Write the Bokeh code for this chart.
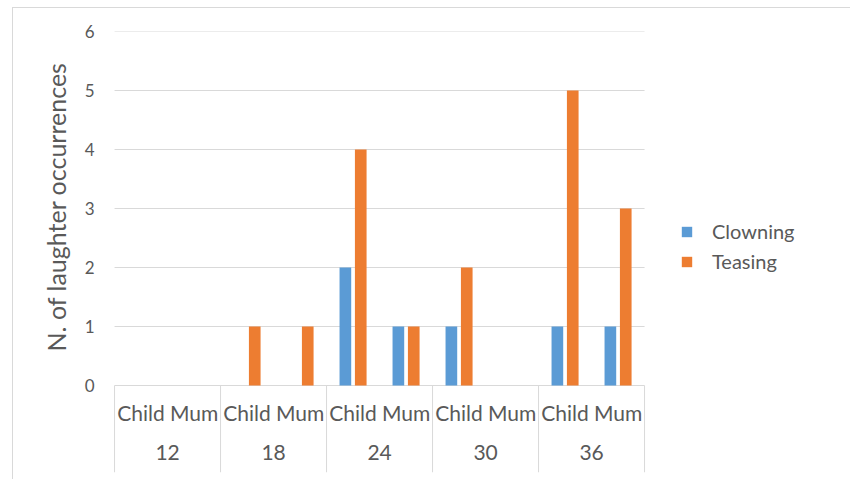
from bokeh.plotting import figure
from bokeh.models import ColumnDataSource, Range1d, FixedTicker, Legend, LegendItem, Title
from bokeh.core.properties import value
from bokeh.transform import dodge
from bokeh.embed import file_html
from bokeh.resources import INLINE

# ---- data ----
ages = ["12", "18", "24", "30", "36"]
roles = ["Child", "Mum"]
clowning = [0, 0, 0, 0, 2, 1, 1, 0, 1, 1]
teasing = [0, 0, 1, 1, 4, 1, 2, 0, 5, 3]
y_ticks = [0, 1, 2, 3, 4, 5, 6]
y_title = "N. of laughter occurrences"
series_names = ["Clowning", "Teasing"]
colors = ["#5B9BD5", "#ED7D31"]

FONT = "Lato"
TXT = "#595959"
GRID = "#d9d9d9"

n = len(ages) * len(roles)
slot = [i + 0.5 for i in range(n)]
role_labels = [r for _ in ages for r in roles]

W, H = 838, 472
left, top, bottom = 100, 23, 8
ppx = 53.0            # pixels per category slot
ppy = 59.0            # pixels per unit
x0 = -0.02
x1 = x0 + (W - left) / ppx
ymax = 6.0
ymin = ymax - (H - top - bottom) / ppy

p = figure(width=W, height=H, output_backend="svg", toolbar_location=None,
           x_range=Range1d(x0, x1), y_range=Range1d(ymin, ymax),
           x_axis_location=None, min_border_left=left, min_border_right=0,
           min_border_top=top, min_border_bottom=bottom, outline_line_color=None)
p.margin = (7, 0, 0, 12)
p.styles = {"border-left": "1px solid #d9d9d9", "border-top": "1px solid #d9d9d9"}

# y axis
p.yaxis.ticker = FixedTicker(ticks=y_ticks)
p.yaxis.axis_line_color = None
p.yaxis.major_tick_line_color = None
p.yaxis.minor_tick_line_color = None
p.yaxis.major_label_standoff = 13
p.yaxis.major_label_text_font = FONT
p.yaxis.major_label_text_font_size = "17px"
p.yaxis.major_label_text_color = TXT
p.xgrid.visible = False
p.ygrid.visible = False

# horizontal gridlines limited to the category span
p.segment(x0=[0] * len(y_ticks), y0=y_ticks, x1=[n] * len(y_ticks), y1=y_ticks,
          line_color=GRID, line_width=1)

# y title
p.add_layout(Title(text=y_title, align="left", offset=121, standoff=22,
                   text_font=FONT, text_font_size="25px", text_font_style="normal",
                   text_color=TXT), "left")

# bars
src = ColumnDataSource(dict(x=slot, clowning=clowning, teasing=teasing))
off = 0.145
w = 0.22
r1 = p.vbar(x=dodge("x", -off), top="clowning", bottom=0, width=w, source=src,
            fill_color=colors[0], line_color=None)
r2 = p.vbar(x=dodge("x", off), top="teasing", bottom=0, width=w, source=src,
            fill_color=colors[1], line_color=None)

# category table below the axis
bounds = list(range(0, n + 1, len(roles)))
p.segment(x0=bounds, y0=[0] * len(bounds), x1=bounds, y1=[ymin] * len(bounds),
          line_color=GRID, line_width=1)
p.text(x=slot, y=[-0.46] * n, text=role_labels, text_font=value(FONT),
       text_font_size="21px", text_color=TXT, text_align="center", text_baseline="middle")
age_x = [i * len(roles) + len(roles) / 2 for i in range(len(ages))]
p.text(x=age_x, y=[-1.135] * len(ages), text=ages, text_font=value(FONT),
       text_font_size="21px", text_color=TXT, text_align="center", text_baseline="middle")

legend = Legend(items=[LegendItem(label=series_names[0], renderers=[r1]),
                       LegendItem(label=series_names[1], renderers=[r2])],
                location=(567, 199), orientation="vertical",
                margin=0, padding=10, spacing=6,
                glyph_width=13, glyph_height=13, label_standoff=19,
                label_text_font=FONT, label_text_font_size="20px", label_text_color=TXT,
                border_line_color=None, background_fill_alpha=0)
p.add_layout(legend)

open("out.html", "w").write(file_html(p, INLINE))
